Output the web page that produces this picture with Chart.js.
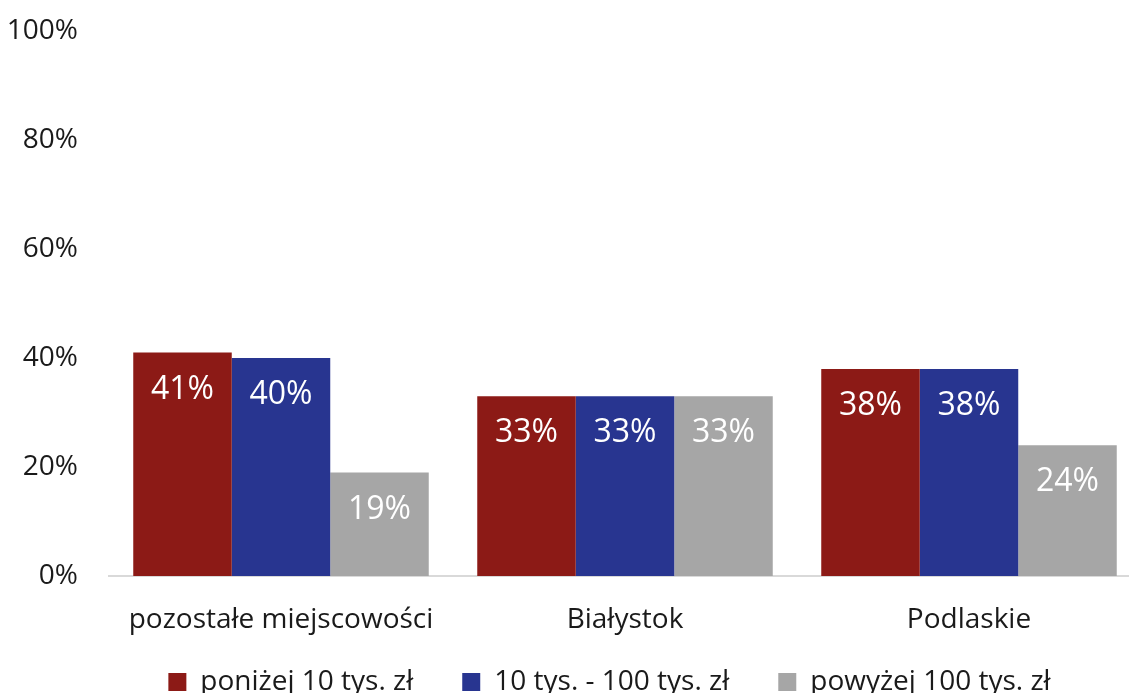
<!DOCTYPE html>
<html>
<head>
<meta charset="utf-8">
<script src="https://cdn.jsdelivr.net/npm/chart.js@4/dist/chart.umd.min.js"></script>
<style>
  html, body { margin: 0; padding: 0; overflow: hidden; background: #fff; }
  canvas { display: block; }
</style>
</head>
<body>
<canvas id="wykres" width="1145" height="723"></canvas>
<script>
// dane z wykresu
const kategorie = ["pozostałe miejscowości", "Białystok", "Podlaskie"];
const serie = ["poniżej 10 tys. zł", "10 tys. - 100 tys. zł", "powyżej 100 tys. zł"];
const ponizej10 = [41, 33, 38];
const od10do100 = [40, 33, 38];
const powyzej100 = [19, 33, 24];
const kolory = ["#8C1A16", "#283590", "#A6A6A6"];

const czcionka = "'Open Sans', Lato, sans-serif";

const etykietyPlugin = {
    id: "etykiety",
    afterLayout(chart) {
        // legenda przesunieta jak w oryginale
        const l = chart.legend;
        l.left += 39;
        l.right += 39;
        l.bottom = 619 + l.height;
        l.top = 619;
    },
    // etykiety wartosci wewnatrz slupkow
    afterDatasetsDraw(chart) {
        const ctx = chart.ctx;
        ctx.save();
        ctx.fillStyle = "#ffffff";
        ctx.font = "32px " + czcionka;
        ctx.textAlign = "center";
        ctx.textBaseline = "middle";
        chart.data.datasets.forEach((ds, i) => {
            chart.getDatasetMeta(i).data.forEach((bar, j) => {
                ctx.fillText(ds.data[j] + "%", bar.x, bar.y + 37);
            });
        });
        ctx.restore();
    }
};

new Chart(document.getElementById("wykres").getContext("2d"), {
    type: "bar",
    data: {
        labels: kategorie,
        datasets: [
            { label: serie[0], data: ponizej10, backgroundColor: kolory[0] },
            { label: serie[1], data: od10do100, backgroundColor: kolory[1] },
            { label: serie[2], data: powyzej100, backgroundColor: kolory[2] }
        ]
    },
    options: {
        responsive: false,
        animation: false,
        layout: { padding: { left: 0, right: 4, top: 31, bottom: 0 } },
        datasets: {
            bar: { barPercentage: 1, categoryPercentage: 0.859 }
        },
        plugins: {
            tooltip: { enabled: false },
            legend: {
                position: "bottom",
                labels: {
                    font: { family: czcionka, size: 28 },
                    color: "#1a1a1a",
                    boxWidth: 18,
                    boxHeight: 18,
                    padding: 49
                }
            }
        },
        scales: {
            x: {
                grid: { display: false },
                border: { color: "#d9d9d9", width: 2 },
                afterFit(scale) { scale.height = 60; },
                ticks: {
                    font: { family: czcionka, size: 28 },
                    color: "#1a1a1a",
                    padding: 19
                }
            },
            y: {
                min: 0,
                max: 100,
                grid: { display: false, tickLength: 31 },
                border: { display: false },
                afterFit(scale) { scale.width = 109; },
                ticks: {
                    stepSize: 20,
                    padding: 0,
                    font: { family: czcionka, size: 28 },
                    color: "#1a1a1a",
                    callback: v => v + "%"
                }
            }
        }
    },
    plugins: [etykietyPlugin]
});
</script>
</body>
</html>
